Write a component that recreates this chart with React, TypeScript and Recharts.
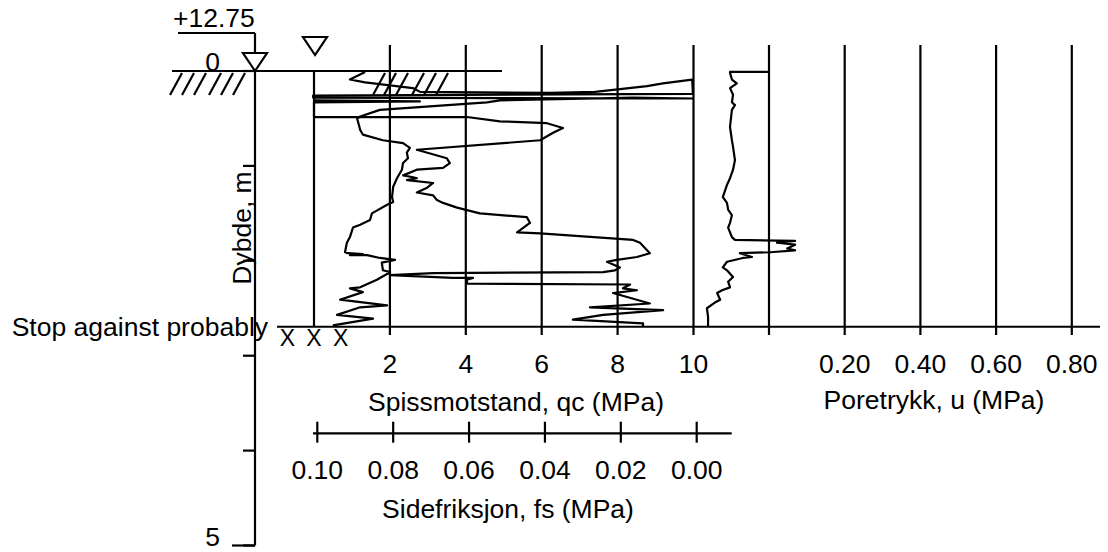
import { ScatterChart, Scatter, XAxis, YAxis, ReferenceLine, ReferenceDot } from 'recharts';

// Cone penetration log (depth in m, readings in MPa)
const QC_DEPTH = [0.31, 0.32, 0.33, 0.485, 0.485, 0.53, 0.55, 0.6, 0.65, 0.73, 0.83, 0.92, 0.97, 1.02, 1.04, 1.1, 1.12, 1.13, 1.15, 1.18, 1.23, 1.28, 1.31, 1.36, 1.39, 1.44, 1.5, 1.54, 1.6, 1.7, 1.71, 1.78, 1.81, 1.92, 1.96, 1.99, 2.01, 2.07, 2.1, 2.12, 2.13, 2.15, 2.18, 2.18, 2.2, 2.24, 2.25, 2.29, 2.31, 2.34, 2.45, 2.49, 2.52, 2.57, 2.62, 2.66, 2.69];
const QC_VALUES = [0, 2.79, 0, 0, 4.03, 4.9, 6.14, 6.56, 6.3, 5.96, 2.71, 3.5, 3.58, 3.4, 2.71, 2.35, 2.61, 2.71, 2.45, 3.14, 2.98, 2.71, 3.14, 3.24, 3.4, 3.77, 4.37, 5.61, 5.69, 5.35, 5.96, 8.41, 8.59, 8.85, 8.51, 7.98, 7.72, 8.06, 7.93, 7.62, 3.14, 2.0, 3.66, 4.19, 4.03, 4.03, 8.33, 8.14, 8.51, 7.88, 8.85, 7.27, 9.2, 7.62, 6.82, 8.67, 8.67];

const FS_DEPTH = [0.01, 0.09, 0.12, 0.18, 0.22, 0.23, 0.22, 0.16, 0.13, 0.09, 0.24, 0.26, 0.28, 0.29, 0.28, 0.31, 0.33, 0.41, 0.48, 0.5, 0.62, 0.67, 0.73, 0.76, 0.81, 0.86, 0.92, 0.97, 1.04, 1.13, 1.22, 1.33, 1.38, 1.41, 1.5, 1.57, 1.62, 1.65, 1.75, 1.81, 1.91, 1.92, 1.93, 1.94, 1.94, 1.97, 1.99, 2.02, 2.1, 2.12, 2.2, 2.28, 2.29, 2.33, 2.41, 2.47, 2.49, 2.57, 2.61, 2.68];
const FS_VALUES = [0.0874, 0.0914, 0.0874, 0.0748, 0.0729, 0.0387, 0.0268, 0.0131, 0.0089, 0.0012, 0.001, 0.1011, 0.1011, 0.001, 0.0168, 0.0519, 0.0553, 0.0835, 0.0887, 0.0895, 0.0887, 0.088, 0.0827, 0.0774, 0.0756, 0.0764, 0.0761, 0.0774, 0.0777, 0.079, 0.08, 0.0803, 0.08, 0.0816, 0.0856, 0.0861, 0.0887, 0.0906, 0.0914, 0.0922, 0.0927, 0.0919, 0.088, 0.0914, 0.0869, 0.0835, 0.0795, 0.083, 0.0827, 0.0808, 0.0843, 0.0887, 0.0914, 0.088, 0.094, 0.0816, 0.0887, 0.0948, 0.0853, 0.0959];

const U_DEPTH = [0.01, 0.01, 0.02, 0.09, 0.13, 0.18, 0.25, 0.33, 0.36, 0.41, 0.59, 0.73, 0.8, 0.94, 1.04, 1.13, 1.2, 1.33, 1.39, 1.46, 1.52, 1.6, 1.65, 1.75, 1.78, 1.79, 1.81, 1.83, 1.87, 1.89, 1.91, 1.92, 1.96, 1.97, 2.01, 2.07, 2.1, 2.17, 2.22, 2.28, 2.31, 2.34, 2.41, 2.44, 2.5, 2.59, 2.69];
const U_VALUES = [0, -0.103, -0.103, -0.098, -0.085, -0.103, -0.095, -0.098, -0.09, -0.098, -0.103, -0.098, -0.095, -0.09, -0.095, -0.103, -0.111, -0.122, -0.111, -0.108, -0.098, -0.103, -0.108, -0.098, -0.09, 0.069, 0.021, 0.069, 0.048, 0.069, 0.003, -0.077, -0.045, -0.069, -0.111, -0.122, -0.111, -0.095, -0.108, -0.103, -0.124, -0.137, -0.129, -0.143, -0.164, -0.161, -0.161];

const DEPTH_TICKS = [0, 1, 2, 3, 4, 5];
const QC_TICKS = [2, 4, 6, 8, 10];
const U_TICKS = [0.2, 0.4, 0.6, 0.8];
const FS_TICKS = [0.1, 0.08, 0.06, 0.04, 0.02, 0];
const STOP_DEPTH = 2.695;
const STOP_MARKS = [-0.7, 0, 0.7];

// page layout (px)
const W = 1108;
const H = 552;
const LEFT = 255;
const RIGHT = 1100;
const TOP = 33;
const BOTTOM = 545.5;
const Y0 = 71;
const PX_M = 94.9;
const QC0 = 314;
const PX_QC = 37.95;
const FS0 = 696.7;
const PX_FS = 3794;
const U0 = 769;
const PX_U = 378.5;

const FONT = '"Liberation Sans", Arial, sans-serif';
const FS = 26.5;
const LW = 2.2;

const dAt = (y: number) => (y - Y0) / PX_M;
const qcAt = (x: number) => (x - QC0) / PX_QC;

const depthDomain = [dAt(TOP), dAt(BOTTOM)];
const qcDomain = [qcAt(LEFT), qcAt(RIGHT)];
const fsDomain = [(FS0 - RIGHT) / PX_FS, (FS0 - LEFT) / PX_FS];
const uDomain = [(LEFT - U0) / PX_U, (RIGHT - U0) / PX_U];

const qcData = QC_DEPTH.map((d, i) => ({ d, qc: QC_VALUES[i] }));
const fsData = FS_DEPTH.map((d, i) => ({ d, fs: FS_VALUES[i] }));
const uData = U_DEPTH.map((d, i) => ({ d, u: U_VALUES[i] }));

const GRID_TOP = dAt(45);
const GRID_BOTTOM = dAt(335);

const seg = (key: string, axis: string, x1: number, y1: number, x2: number, y2: number) => (
  <ReferenceLine
    key={key}
    xAxisId={axis}
    yAxisId="d"
    segment={[{ x: x1, y: y1 }, { x: x2, y: y2 }]}
    stroke="#000"
    strokeWidth={LW}
    ifOverflow="visible"
  />
);

const label = (
  key: string,
  axis: string,
  x: number,
  y: number,
  text: string,
  anchor = 'middle',
  size = FS,
  rotate = 0,
) => (
  <ReferenceDot
    key={key}
    xAxisId={axis}
    yAxisId="d"
    x={x}
    y={y}
    r={0}
    ifOverflow="visible"
    shape={(p: any) => (
      <text
        x={p.cx}
        y={p.cy}
        textAnchor={anchor}
        fontSize={size}
        fontFamily={FONT}
        fill="#000"
        transform={rotate ? `rotate(${rotate} ${p.cx} ${p.cy})` : undefined}
      >
        {text}
      </text>
    )}
  />
);

const triangle = (key: string, x: number, y: number) => (
  <ReferenceDot
    key={key}
    xAxisId="qc"
    yAxisId="d"
    x={x}
    y={y}
    r={0}
    ifOverflow="visible"
    shape={(p: any) => (
      <polygon
        points={`${p.cx},${p.cy} ${p.cx - 12},${p.cy - 18} ${p.cx + 12},${p.cy - 18}`}
        fill="#fff"
        stroke="#000"
        strokeWidth={LW}
      />
    )}
  />
);

const DepthTick = (props: any) => {
  const { x, y, payload } = props;
  if (payload.value !== 0 && payload.value !== 5) return <g />;
  return (
    <text x={x} y={y} textAnchor="end" fontSize={FS} fontFamily={FONT} fill="#000">
      {payload.value}
    </text>
  );
};

const hatch = (prefix: string, starts: number[]) =>
  starts.map((x, i) => seg(`${prefix}${i}`, 'qc', qcAt(x), dAt(95), qcAt(x + 12), dAt(73)));

const noDot = () => <g />;
const curve = { stroke: '#000', strokeWidth: LW, strokeLinejoin: 'round' as const, fill: 'none' };

const App = () => {
  return (
    <div style={{ position: 'absolute', left: 0, top: 0, width: W, height: H, background: '#fff' }}>
      <ScatterChart width={W} height={H} margin={{ top: TOP, right: W - RIGHT, bottom: H - BOTTOM, left: 0 }}>
        <XAxis xAxisId="qc" dataKey="qc" type="number" domain={qcDomain} allowDataOverflow hide />
        <XAxis xAxisId="fs" dataKey="fs" type="number" domain={fsDomain} allowDataOverflow reversed hide />
        <XAxis xAxisId="u" dataKey="u" type="number" domain={uDomain} allowDataOverflow hide />
        <YAxis
          yAxisId="d"
          dataKey="d"
          type="number"
          domain={depthDomain}
          allowDataOverflow
          reversed
          ticks={DEPTH_TICKS}
          interval={0}
          width={LEFT}
          tickSize={12}
          tickMargin={23}
          tick={DepthTick}
          axisLine={{ stroke: '#000', strokeWidth: LW }}
          tickLine={{ stroke: '#000', strokeWidth: LW }}
        />

        {/* ground surface, water level and elevation */}
        {seg('ground', 'qc', qcAt(172), 0, qcAt(502), 0)}
        {hatch('gh', [170, 182, 194, 209, 221, 233])}
        {hatch('fh', [373, 384, 396, 412, 424, 436])}
        {seg('elev', 'qc', qcAt(178), dAt(TOP), qcAt(LEFT), dAt(TOP))}
        {seg('tick5', 'qc', qcAt(232), 5, qcAt(LEFT), 5)}
        {triangle('tri1', qcAt(LEFT), 0)}
        {triangle('tri2', qcAt(315), dAt(55))}
        {label('elevText', 'qc', qcAt(173), dAt(27), '+12.75', 'start')}
        {label('depthTitle', 'qc', qcAt(251), dAt(228), 'Dybde, m', 'middle', FS, -90)}

        {/* grid */}
        {seg('qc0', 'qc', 0, 0, 0, STOP_DEPTH)}
        {QC_TICKS.map((v) => seg(`gq${v}`, 'qc', v, GRID_TOP, v, GRID_BOTTOM))}
        {[0, ...U_TICKS].map((v) => seg(`gu${v}`, 'u', v, GRID_TOP, v, GRID_BOTTOM))}
        {seg('stop', 'qc', qcAt(277), STOP_DEPTH, qcDomain[1], STOP_DEPTH)}

        {/* qc / u scales */}
        {QC_TICKS.map((v) => label(`lq${v}`, 'qc', v, dAt(373), String(v)))}
        {U_TICKS.map((v) => label(`lu${v}`, 'u', v, dAt(373), v.toFixed(2)))}
        {label('qcTitle', 'qc', qcAt(516), dAt(410.5), 'Spissmotstand, qc (MPa)')}
        {label('uTitle', 'qc', qcAt(934), dAt(409), 'Poretrykk, u (MPa)')}

        {/* fs scale */}
        {seg('fsAxis', 'fs', (FS0 - 313) / PX_FS, dAt(433.3), (FS0 - 731.7) / PX_FS, dAt(433.3))}
        {FS_TICKS.map((v) => seg(`tf${v}`, 'fs', v, dAt(421.7), v, dAt(442.7)))}
        {FS_TICKS.map((v) => label(`lf${v}`, 'fs', v, dAt(479), v.toFixed(2)))}
        {label('fsTitle', 'qc', qcAt(508), dAt(518), 'Sidefriksjon, fs (MPa)')}

        {/* stop */}
        {label('stopText', 'qc', qcAt(11.7), dAt(336), 'Stop against probably', 'start')}
        {STOP_MARKS.map((v, i) => label(`x${i}`, 'qc', v, dAt(345.5), 'X', 'middle', 23))}

        <Scatter xAxisId="qc" yAxisId="d" data={qcData} line={curve} shape={noDot} isAnimationActive={false} />
        <Scatter xAxisId="fs" yAxisId="d" data={fsData} line={curve} shape={noDot} isAnimationActive={false} />
        <Scatter xAxisId="u" yAxisId="d" data={uData} line={curve} shape={noDot} isAnimationActive={false} />
      </ScatterChart>
    </div>
  );
};

export default App;
